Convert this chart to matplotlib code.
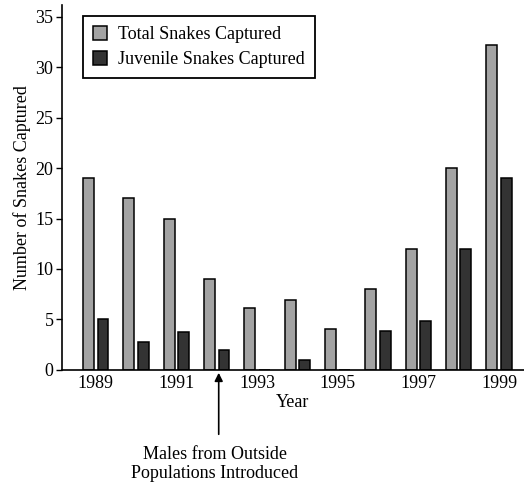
import numpy as np
import matplotlib
matplotlib.use("Agg")
import matplotlib.pyplot as plt

years = [1989, 1990, 1991, 1992, 1993, 1994, 1995, 1996, 1997, 1998, 1999]
total = [19, 17, 15, 9, 6.1, 6.9, 4, 8, 12, 20, 32.2]
juvenile = [5, 2.8, 3.7, 2, 0, 1, 0, 3.8, 4.8, 12, 19]
tick_years = [1989, 1991, 1993, 1995, 1997, 1999]

plt.rcParams["font.family"] = ["Liberation Serif", "DejaVu Serif"]
plt.rcParams["font.size"] = 13

fig = plt.figure(figsize=(5.24, 4.84), dpi=100)
ax = fig.add_axes([0.118, 0.236, 0.882, 0.754])

x = np.array(years)
w = 0.27
ax.bar(x - 0.18, total, width=w, color="#a3a3a3", edgecolor="black", linewidth=1.1,
       label="Total Snakes Captured")
ax.bar(x + 0.18, juvenile, width=w, color="#333333", edgecolor="black", linewidth=1.1,
       label="Juvenile Snakes Captured")

ax.set_xlim(1988.16, 1999.62)
ax.set_ylim(0, 36.2)
ax.set_yticks([0, 5, 10, 15, 20, 25, 30, 35])
ax.set_xticks(tick_years)
ax.tick_params(axis="x", length=0, pad=4, labelsize=13)
ax.tick_params(axis="y", length=4, width=1, direction="out", pad=2, labelsize=13)

ax.spines["top"].set_visible(False)
ax.spines["right"].set_visible(False)
ax.spines["left"].set_linewidth(1.2)
ax.spines["bottom"].set_linewidth(1.2)

ax.set_xlabel("Year", labelpad=1)
ax.set_ylabel("Number of Snakes Captured", labelpad=3)

leg = ax.legend(loc="upper left", bbox_to_anchor=(0.045, 0.97), fancybox=False,
                edgecolor="black", framealpha=1, handlelength=0.8, handleheight=0.8,
                handletextpad=0.6, borderpad=0.55, labelspacing=0.45, fontsize=13,
                borderaxespad=0)
leg.get_frame().set_linewidth(1.3)

# arrow marking the introduction year
ax.annotate("", xy=(1992.05, -0.3), xytext=(1992.05, -6.4),
            arrowprops=dict(arrowstyle="-|>", color="black", lw=1.2,
                            mutation_scale=12, shrinkA=0, shrinkB=0),
            annotation_clip=False)
ax.text(1991.95, -7.6, "Males from Outside\nPopulations Introduced",
        ha="center", va="top", fontsize=13, linespacing=1.15, clip_on=False)

fig.savefig("out.png", dpi=100)
